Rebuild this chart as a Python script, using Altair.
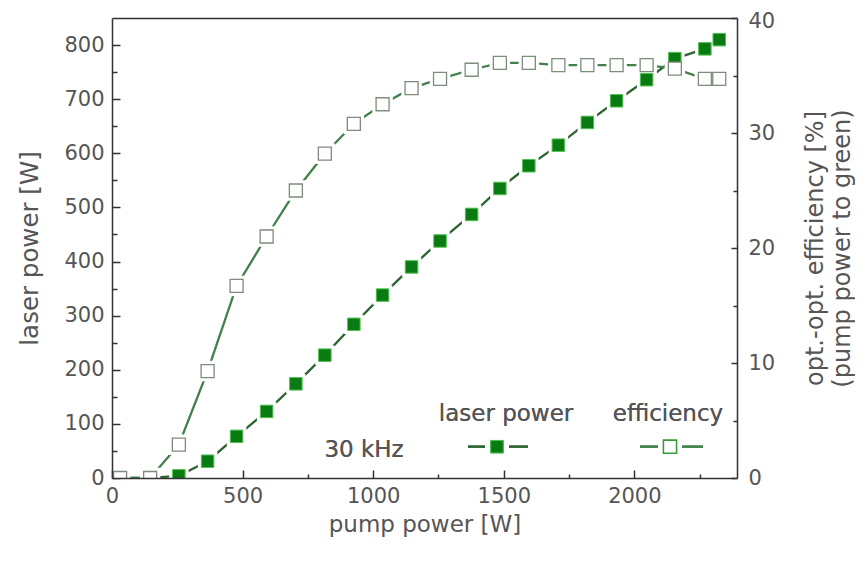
import altair as alt
import pandas as pd

# ---- data ----
pump = [31, 146, 256, 366, 477, 592, 704, 815, 926, 1036, 1147, 1256, 1377,
        1485, 1596, 1709, 1820, 1932, 2047, 2155, 2270, 2325]
laser = [0, 0, 4, 31, 77, 123, 174, 227, 284, 338, 390, 438, 487,
         535, 577, 615, 657, 697, 736, 775, 793, 810]
eff = [0, 0, 2.9, 9.3, 16.7, 21.0, 25.0, 28.2, 30.8, 32.5, 33.9, 34.7, 35.5,
       36.1, 36.1, 35.9, 35.9, 35.9, 35.9, 35.6, 34.7, 34.7]

x_major_ticks = [0, 500, 1000, 1500, 2000]
x_minor_ticks = [250, 750, 1250, 1750, 2250]
yl_major_ticks = [0, 100, 200, 300, 400, 500, 600, 700, 800]
yl_minor_ticks = [50, 150, 250, 350, 450, 550, 650, 750]
yr_major_ticks = [0, 10, 20, 30, 40]
yr_minor_ticks = [5, 15, 25, 35]

legend_labels = ["laser power", "efficiency"]
legend_note = "30 kHz"

df = pd.DataFrame({"pump": pump, "laser": laser, "eff": eff})

W, H = 625, 460
FONT = "DejaVu Sans"
TXT = "#555555"
AX = "#333333"
LASER_LINE = "#2c6531"
EFF_LINE = "#40804a"
FILL_G = "#0a7a12"
EDGE_G = "#4fc04f"
OPEN_EDGE = "#7d8c7d"
TICK_FS = 21
LEG_FS = 23

xs = alt.Scale(domain=[0, 2393], nice=False, zero=False)
ysL = alt.Scale(domain=[0, 850], nice=False, zero=False)
ysR = alt.Scale(domain=[0, 40], nice=False, zero=False)

common = dict(grid=False, tickColor=AX, tickWidth=1.5, labelFont=FONT,
              labelColor=TXT, titleFont=FONT, titleColor=TXT,
              titleFontWeight="normal")

x_major = alt.Axis(orient="bottom", values=x_major_ticks, domain=False,
                   format="d", tickSize=8, offset=-8, labelPadding=7,
                   labelFontSize=TICK_FS, labelFlush=False,
                   title="pump power [W]", titleFontSize=23,
                   titleX=W / 2, titleY=54, titleBaseline="middle",
                   titleAlign="center", **common)
x_minor = alt.Axis(orient="bottom", values=x_minor_ticks, domain=False,
                   tickSize=4, offset=-4, labels=False, title=None, **common)
x_top = alt.Axis(orient="top", domain=True, domainColor=AX, domainWidth=1.5,
                 ticks=False, labels=False, title=None, zindex=1, grid=False)
x_bot = alt.Axis(orient="bottom", domain=True, domainColor=AX, domainWidth=1.5,
                 ticks=False, labels=False, title=None, zindex=1, grid=False)

yl_major = alt.Axis(orient="left", values=yl_major_ticks, domain=False,
                    format="d", tickSize=8, offset=-8, labelPadding=8,
                    labelFontSize=TICK_FS, title="laser power [W]",
                    titleFontSize=24.5, titleAngle=270,
                    titleX=-90, titleY=H / 2, titleBaseline="middle",
                    titleAlign="center", **common)
yl_minor = alt.Axis(orient="left", values=yl_minor_ticks, domain=False,
                    tickSize=5, offset=-5, labels=False, title=None, **common)
yl_frame = alt.Axis(orient="left", domain=True, domainColor=AX, domainWidth=1.5,
                    ticks=False, labels=False, title=None, zindex=1, grid=False)

yr_major = alt.Axis(orient="right", values=yr_major_ticks, domain=False,
                    format="d", tickSize=6, offset=-6, labelPadding=11,
                    labelFontSize=TICK_FS,
                    labelOffset={"condition": {"test": "datum.value == 40",
                                               "value": 3}, "value": 0},
                    title=["opt.-opt. efficiency [%]", "(pump power to green)"],
                    titleFontSize=24, titleAngle=270, titleX=84, titleY=H / 2,
                    titleBaseline="middle", titleAlign="center",
                    titleLineHeight=27, **common)
yr_minor = alt.Axis(orient="right", values=yr_minor_ticks, domain=False,
                    tickSize=4, offset=-4, labels=False, title=None, **common)
yr_frame = alt.Axis(orient="right", domain=True, domainColor=AX, domainWidth=1.5,
                    ticks=False, labels=False, title=None, zindex=1, grid=False)

base = alt.Chart(df)

laser_line = base.mark_line(color=LASER_LINE, strokeWidth=2.3, clip=True).encode(
    x=alt.X("pump:Q", scale=xs, axis=x_major),
    y=alt.Y("laser:Q", scale=ysL, axis=yl_major),
)
eff_line = base.mark_line(color=EFF_LINE, strokeWidth=2.3, clip=True).encode(
    x=alt.X("pump:Q", scale=xs, axis=x_minor),
    y=alt.Y("eff:Q", scale=ysR, axis=yr_major),
)
laser_halo = base.mark_square(size=380, color="white", opacity=1, clip=True).encode(
    x=alt.X("pump:Q", scale=xs, axis=x_top),
    y=alt.Y("laser:Q", scale=ysL, axis=yl_minor),
)
eff_halo = base.mark_square(size=420, color="white", opacity=1, clip=True).encode(
    x=alt.X("pump:Q", scale=xs, axis=x_bot),
    y=alt.Y("eff:Q", scale=ysR, axis=yr_minor),
)
laser_pts = base.mark_square(size=156, fill=FILL_G, stroke=EDGE_G, strokeWidth=1,
                             opacity=1, clip=True).encode(
    x=alt.X("pump:Q", scale=xs, axis=None),
    y=alt.Y("laser:Q", scale=ysL, axis=yl_frame),
)
eff_pts = base.mark_point(shape="square", size=169, fill="white", filled=False,
                          stroke=OPEN_EDGE, strokeWidth=1.3, opacity=1,
                          clip=True).encode(
    x=alt.X("pump:Q", scale=xs, axis=None),
    y=alt.Y("eff:Q", scale=ysR, axis=yr_frame),
)

# ---- legend (custom, in pixel space) ----
ld = pd.DataFrame({"label": legend_labels})
lg = alt.Chart(ld)
LY = 428.7
leg_text = lg.mark_text(font=FONT, fontSize=LEG_FS, color=TXT,
                        baseline="alphabetic", align="center").encode(
    x=alt.value(394), y=alt.value(403), text=alt.value(legend_labels[0]))
leg_text2 = lg.mark_text(font=FONT, fontSize=LEG_FS, color=TXT,
                         baseline="alphabetic", align="center").encode(
    x=alt.value(556), y=alt.value(403), text=alt.value(legend_labels[1]))
leg_note = lg.mark_text(font=FONT, fontSize=LEG_FS, color=TXT,
                        baseline="alphabetic", align="center").encode(
    x=alt.value(252), y=alt.value(439), text=alt.value(legend_note))
leg_l1 = lg.mark_rule(color=LASER_LINE, strokeWidth=2.3).encode(
    x=alt.value(356), x2=alt.value(416), y=alt.value(LY))
leg_l2 = lg.mark_rule(color=EFF_LINE, strokeWidth=2.3).encode(
    x=alt.value(528), x2=alt.value(591), y=alt.value(LY))
leg_h1 = lg.mark_square(size=576, color="white", opacity=1).encode(
    x=alt.value(385), y=alt.value(LY))
leg_h2 = lg.mark_square(size=576, color="white", opacity=1).encode(
    x=alt.value(558), y=alt.value(LY))
leg_m1 = lg.mark_square(size=156, fill=FILL_G, stroke=EDGE_G, strokeWidth=1,
                        opacity=1).encode(x=alt.value(385), y=alt.value(LY))
leg_m2 = lg.mark_point(shape="square", size=169, fill="white", filled=False,
                       stroke="#3a9a3a", strokeWidth=1.4, opacity=1).encode(
    x=alt.value(558), y=alt.value(LY))

chart = alt.layer(
    laser_line, eff_line, laser_halo, eff_halo, laser_pts, eff_pts,
    leg_text, leg_text2, leg_note, leg_l1, leg_l2, leg_h1, leg_h2, leg_m1, leg_m2,
).resolve_scale(
    y="independent"
).resolve_axis(
    x="independent", y="independent"
).properties(
    width=W, height=H,
    autosize=alt.AutoSizeParams(type="none"),
    padding={"left": 104, "top": 10, "right": 118, "bottom": 70},
    background="white",
).configure_view(stroke=None)

chart.save("out.html", embed_options={"renderer": "svg", "actions": False})
